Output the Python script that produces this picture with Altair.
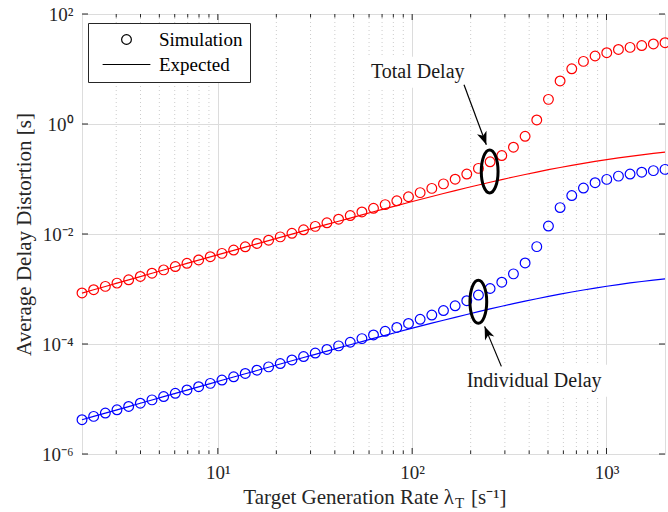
import json
import altair as alt
import pandas as pd

SERIF = "Liberation Serif"
INK = "#262626"
W, H = 583, 440

# Target generation rate lambda_T [1/s], log-spaced samples
lam = [2.000, 2.296, 2.637, 3.027, 3.476, 3.991, 4.583, 5.262, 6.041, 6.937,
       7.965, 9.145, 10.50, 12.06, 13.84, 15.89, 18.25, 20.95, 24.06, 27.62,
       31.72, 36.42, 41.82, 48.01, 55.13, 63.25, 72.62, 83.38, 95.74, 109.9,
       126.2, 144.9, 166.4, 191.0, 219.3, 251.8, 289.2, 332.0, 381.2, 437.7,
       502.6, 577.0, 662.6, 760.8, 873.5, 1003, 1152, 1322, 1518, 1743, 2000]

# Total delay: simulated and expected [s]
total_sim = [8.46e-4, 9.71e-4, 1.116e-3, 1.280e-3, 1.469e-3, 1.688e-3, 1.938e-3, 2.225e-3,
             2.555e-3, 2.933e-3, 3.369e-3, 3.867e-3, 4.440e-3, 5.097e-3, 5.853e-3, 6.721e-3,
             7.716e-3, 8.860e-3, 1.029e-2, 1.190e-2, 1.377e-2, 1.600e-2, 1.859e-2, 2.163e-2,
             2.519e-2, 2.933e-2, 3.421e-2, 4.020e-2, 4.756e-2, 5.652e-2, 6.748e-2, 8.151e-2,
             9.935e-2, 0.1231, 0.1560, 0.2052, 0.2673, 0.3787, 0.5974, 1.184, 2.806,
             6.07, 10.07, 13.75, 17.23, 19.78, 22.65, 24.72, 26.73, 28.52, 30.07]
total_exp = [8.44e-4, 9.69e-4, 1.112e-3, 1.276e-3, 1.465e-3, 1.682e-3, 1.930e-3, 2.215e-3,
             2.541e-3, 2.915e-3, 3.345e-3, 3.837e-3, 4.400e-3, 5.043e-3, 5.783e-3, 6.629e-3,
             7.594e-3, 8.699e-3, 9.964e-3, 1.1405e-2, 1.3049e-2, 1.4922e-2, 1.7057e-2, 1.9483e-2,
             2.2231e-2, 2.5366e-2, 2.8884e-2, 3.2884e-2, 3.7366e-2, 4.2431e-2, 4.8079e-2, 5.4411e-2,
             6.1446e-2, 6.9224e-2, 7.7847e-2, 8.7274e-2, 9.7586e-2, 0.10878, 0.12086, 0.13379,
             0.14755, 0.16203, 0.17720, 0.19290, 0.20906, 0.22556, 0.24202, 0.25875, 0.27539,
             0.29175, 0.30757]

# Individual delay: simulated and expected [s]
indiv_sim = [4.21e-6, 4.83e-6, 5.55e-6, 6.37e-6, 7.31e-6, 8.40e-6, 9.64e-6, 1.107e-5,
             1.271e-5, 1.459e-5, 1.676e-5, 1.924e-5, 2.209e-5, 2.536e-5, 2.912e-5, 3.344e-5,
             3.839e-5, 4.408e-5, 5.12e-5, 5.92e-5, 6.85e-5, 7.96e-5, 9.25e-5, 1.076e-4,
             1.253e-4, 1.459e-4, 1.702e-4, 2.000e-4, 2.366e-4, 2.812e-4, 3.357e-4, 4.055e-4,
             4.943e-4, 6.124e-4, 7.762e-4, 1.021e-3, 1.330e-3, 1.884e-3, 2.972e-3, 5.89e-3,
             1.396e-2, 3.02e-2, 5.01e-2, 6.84e-2, 8.57e-2, 9.84e-2, 0.1127, 0.1230, 0.1330,
             0.1419, 0.1496]
indiv_exp = [4.20e-6, 4.82e-6, 5.53e-6, 6.35e-6, 7.29e-6, 8.37e-6, 9.60e-6, 1.102e-5,
             1.264e-5, 1.450e-5, 1.664e-5, 1.909e-5, 2.189e-5, 2.509e-5, 2.877e-5, 3.298e-5,
             3.778e-5, 4.328e-5, 4.957e-5, 5.674e-5, 6.492e-5, 7.424e-5, 8.486e-5, 9.693e-5,
             1.106e-4, 1.262e-4, 1.437e-4, 1.636e-4, 1.859e-4, 2.111e-4, 2.392e-4, 2.707e-4,
             3.057e-4, 3.444e-4, 3.873e-4, 4.342e-4, 4.855e-4, 5.412e-4, 6.013e-4, 6.656e-4,
             7.341e-4, 8.061e-4, 8.816e-4, 9.597e-4, 1.0401e-3, 1.1222e-3, 1.2041e-3, 1.2873e-3,
             1.3701e-3, 1.4515e-3, 1.5302e-3]

# Axis ticks
x_major = [10, 100, 1000]
x_major_labels = ["10¹", "10²", "10³"]
x_minor = [3, 4, 5, 6, 7, 8, 9, 20, 30, 40, 50, 60, 70, 80, 90,
           200, 300, 400, 500, 600, 700, 800, 900]
y_major = [1e-6, 1e-4, 1e-2, 1, 100]
y_major_labels = ["10⁻⁶", "10⁻⁴", "10⁻²", "10⁰", "10²"]

# Annotations (data coordinates)
ann_text = ["Total Delay", "Individual Delay"]
ann_lam = [106.8, 424.2]
ann_delay = [8.93, 2.15e-5]
box_lam = [53.8, 169.4]
box_lam2 = [204.8, 1062.0]
box_delay = [16.7, 4.2e-5]
box_delay2 = [4.57, 1.1e-5]
ring_lam = [250.5, 219.0]
ring_delay = [0.1375, 5.87e-4]
arrow_tail_lam = [184.8, 287.7]
arrow_tail_delay = [5.18, 3.92e-5]
arrow_tip_lam = [240.8, 236.0]
arrow_tip_delay = [0.4206, 2.09e-4]
arrow_angle = [159.5, 337.3]

# ---------------------------------------------------------------- tables
n = len(lam)
sim_df = pd.DataFrame({
    "lam": lam * 2,
    "delay": total_sim + indiv_sim,
    "series": ["Total"] * n + ["Individual"] * n,
    "kind": ["Simulation"] * (2 * n),
})
exp_df = pd.DataFrame({
    "lam": lam * 2,
    "delay": total_exp + indiv_exp,
    "series": ["Total"] * n + ["Individual"] * n,
})
ann_df = pd.DataFrame({
    "text": ann_text, "lam": ann_lam, "delay": ann_delay,
    "box_lam": box_lam, "box_lam2": box_lam2,
    "box_delay": box_delay, "box_delay2": box_delay2,
    "ring_lam": ring_lam, "ring_delay": ring_delay,
    "tail_lam": arrow_tail_lam, "tail_delay": arrow_tail_delay,
    "tip_lam": arrow_tip_lam, "tip_delay": arrow_tip_delay,
    "angle": arrow_angle,
})
xmaj_df = pd.DataFrame({"lam": x_major})
xmin_df = pd.DataFrame({"lam": x_minor})
ymaj_df = pd.DataFrame({"delay": y_major})

# ---------------------------------------------------------------- scales / axes
xs = alt.Scale(type="log", domain=[2, 2000], nice=False)
ys = alt.Scale(type="log", domain=[1e-6, 1e2], nice=False)

x_axis = alt.Axis(
    values=x_major,
    labelExpr=f"{json.dumps(x_major_labels, ensure_ascii=False)}[indexof({json.dumps(x_major)}, datum.value)]",
    grid=True, gridColor="#dcdcdc", gridWidth=1,
    ticks=False, domain=False, labelPadding=9, labelFontSize=19,
    labelFont=SERIF, labelColor=INK, title=None,
)
y_axis = alt.Axis(
    values=y_major,
    labelExpr=f"{json.dumps(y_major_labels, ensure_ascii=False)}[indexof({json.dumps(y_major)}, datum.value)]",
    grid=True, gridColor="#dcdcdc", gridWidth=1,
    ticks=False, domain=False, labelPadding=9, labelFontSize=19,
    labelFont=SERIF, labelColor=INK,
    title="Average Delay Distortion [s]", titleFont=SERIF, titleFontSize=21,
    titleFontWeight="normal", titleColor=INK, titlePadding=7,
)


def X(field="lam"):
    return alt.X(f"{field}:Q", scale=xs, axis=x_axis)


def Y(field="delay"):
    return alt.Y(f"{field}:Q", scale=ys, axis=y_axis)


color = alt.Color("series:N", scale=alt.Scale(domain=["Total", "Individual"],
                                              range=["#ff0000", "#0000ff"]), legend=None)

# ---------------------------------------------------------------- layers
minor_grid = alt.Chart(xmin_df).mark_rule(color="#cccccc", strokeWidth=1, strokeDash=[1, 3]).encode(
    x=X(), y=alt.value(0), y2=alt.value(H))

label_boxes = alt.Chart(ann_df).mark_rect(color="white").encode(
    x=X("box_lam"), x2="box_lam2:Q", y=Y("box_delay"), y2="box_delay2:Q")

expected = alt.Chart(exp_df).mark_line(strokeWidth=1.2).encode(
    x=X(), y=Y(), color=color)

simulated = alt.Chart(sim_df).mark_point(filled=False, size=95, strokeWidth=1.2, opacity=1).encode(
    x=X(), y=Y(), color=color,
    shape=alt.Shape("kind:N", scale=alt.Scale(domain=["Simulation", "Expected"],
                                              range=["circle", "M-4.9,0L4.9,0"]),
                    legend=alt.Legend(
                        title=None, orient="none", legendX=6, legendY=9, direction="vertical",
                        strokeColor=INK, fillColor="white", padding=7, cornerRadius=0,
                        labelFont=SERIF, labelFontSize=19, labelColor="black", labelOffset=23,
                        labelLimit=0, symbolSize=95, symbolStrokeWidth=1.2,
                        symbolStrokeColor="black", symbolFillColor="transparent",
                        symbolOpacity=1, symbolOffset=22, rowPadding=5)),
)

ellipse_path = "M0,-1A0.39,1,0,1,1,0,1A0.39,1,0,1,1,0,-1Z"
rings = alt.Chart(ann_df).mark_point(shape=ellipse_path, size=1849, filled=False,
                                     stroke="black", strokeWidth=3, opacity=1).encode(
    x=X("ring_lam"), y=Y("ring_delay"))

arrow_lines = alt.Chart(ann_df).mark_rule(color="black", strokeWidth=1.2).encode(
    x=X("tail_lam"), y=Y("tail_delay"), x2="tip_lam:Q", y2="tip_delay:Q")

head_path = "M0,0L0.56,1.45L0,1.05L-0.56,1.45Z"
arrow_heads = alt.Chart(ann_df).mark_point(shape=head_path, size=324, filled=True,
                                           color="black", opacity=1).encode(
    x=X("tip_lam"), y=Y("tip_delay"), angle=alt.Angle("angle:Q", scale=None))

labels = alt.Chart(ann_df).mark_text(font=SERIF, fontSize=20, color="#1a1a1a",
                                     align="center", baseline="middle").encode(
    x=X(), y=Y(), text="text:N")

# axis ticks drawn inward on all four sides
tick_len, minor_len = 6, 3.5
ticks = [
    alt.Chart(xmaj_df).mark_rule(color=INK).encode(x=X(), y=alt.value(H), y2=alt.value(H - tick_len)),
    alt.Chart(xmaj_df).mark_rule(color=INK).encode(x=X(), y=alt.value(0), y2=alt.value(tick_len)),
    alt.Chart(xmin_df).mark_rule(color=INK).encode(x=X(), y=alt.value(H), y2=alt.value(H - minor_len)),
    alt.Chart(xmin_df).mark_rule(color=INK).encode(x=X(), y=alt.value(0), y2=alt.value(minor_len)),
    alt.Chart(ymaj_df).mark_rule(color=INK).encode(y=Y(), x=alt.value(0), x2=alt.value(tick_len)),
    alt.Chart(ymaj_df).mark_rule(color=INK).encode(y=Y(), x=alt.value(W), x2=alt.value(W - tick_len)),
]

# x-axis title with a subscripted T
title_df = pd.DataFrame({"a": ["Target Generation Rate λ"], "b": ["T"], "c": ["[s⁻¹]"]})
title_main = alt.Chart(title_df).mark_text(font=SERIF, fontSize=21, color=INK, align="right",
                                           baseline="alphabetic").encode(
    x=alt.value(372), y=alt.value(H + 50), text="a:N")
title_sub = alt.Chart(title_df).mark_text(font=SERIF, fontSize=15, color=INK, align="left",
                                          baseline="alphabetic").encode(
    x=alt.value(373), y=alt.value(H + 54), text="b:N")
title_unit = alt.Chart(title_df).mark_text(font=SERIF, fontSize=21, color=INK, align="left",
                                           baseline="alphabetic").encode(
    x=alt.value(389), y=alt.value(H + 50), text="c:N")

chart = alt.layer(
    minor_grid, label_boxes, expected, simulated, rings, arrow_lines, arrow_heads, labels,
    *ticks, title_main, title_sub, title_unit,
).properties(
    width=W, height=H,
    autosize=alt.AutoSizeParams(type="none"),
    padding={"left": 82, "top": 14, "right": 3, "bottom": 58},
).configure_view(
    stroke=INK, strokeWidth=1,
).configure_axis(
    labelFont=SERIF, titleFont=SERIF, labelColor=INK, titleColor=INK, titleFontWeight="normal",
).configure(background="white")

chart.save("out.html", embed_options={"renderer": "svg", "actions": False})
